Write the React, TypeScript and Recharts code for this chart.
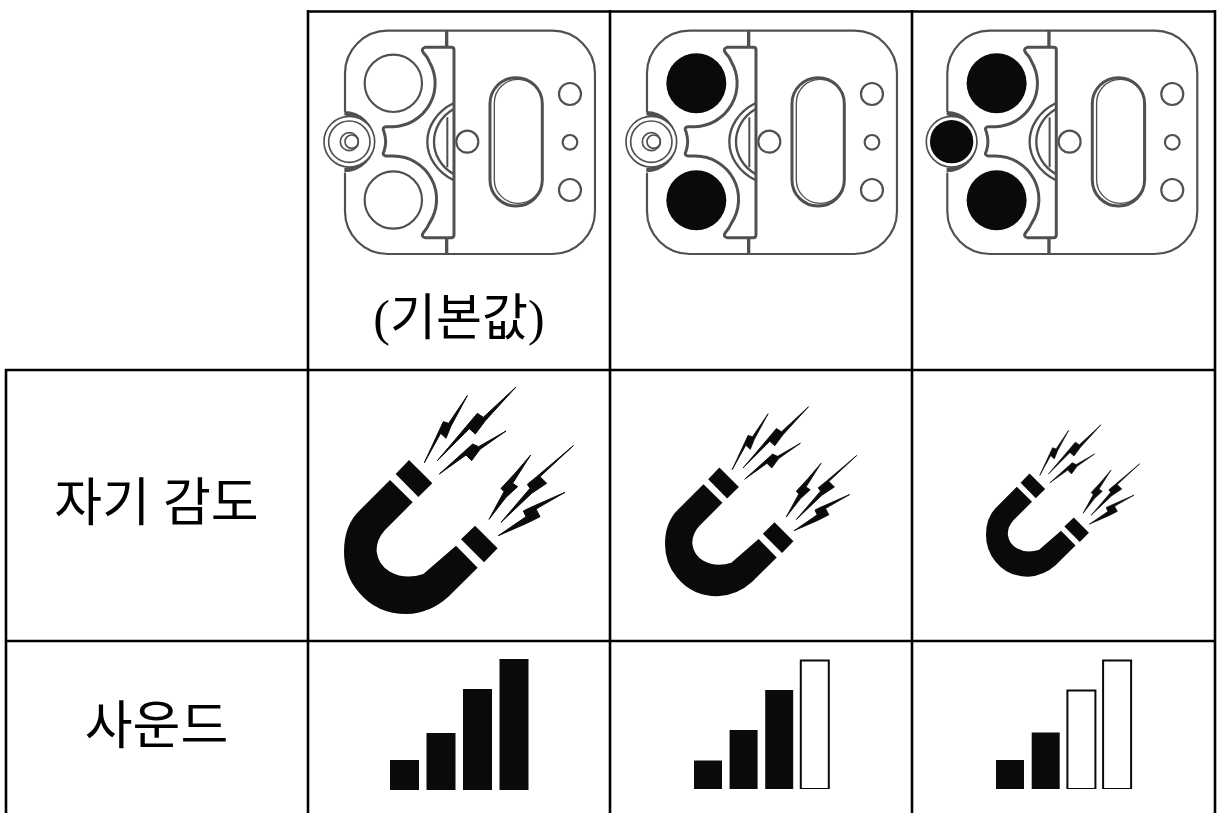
import React from 'react';
import { BarChart, Bar, Cell, XAxis, YAxis, Customized } from 'recharts';

const WIDTH = 1221;
const HEIGHT = 813;
const KR_FONT = '"Liberation Serif", "Noto Sans CJK KR", serif';

const rowLabels = ['자기 감도', '사운드'];
const defaultLabel = '(기본값)';
const soundCategories = ['1', '2', '3', '4'];
const soundLowHeights = [30, 57, 101, 131];
const soundMidHeights = [28.5, 59, 99, 128.5];
const soundHighHeights = [29, 56.5, 98.5, 128.5];
const filledLow = 4;
const filledMid = 3;
const filledHigh = 2;

const INK = '#0a0a0a';
const GREY = '#505050';

// local coordinates are the 3x zoom pixels of the first cell
const DeviceIcon = ({ x, plates, knob }: any) => (
  <g transform={`translate(${x},10) scale(0.3333)`} fill="none" stroke={GREY} strokeWidth={6.5}>
    <path d="M105 305 V190 A128 128 0 0 1 233 62 H727 A128 128 0 0 1 855 190 V604 A128 128 0 0 1 727 732 H233 A128 128 0 0 1 105 604 V488" />
    <path d="M410 62 V110 M410 685 V732" strokeWidth={10} />
    <path
      d="M345 112 H424 Q432 112 432 120 V675 Q432 683 424 683 H345 Q332 680 340 668 Q352 655 358 640 A130 130 0 0 0 250 438 H228 Q215 436 222 424 Q232 395 222 365 Q215 352 228 350 H250 A130 130 0 0 0 358 155 Q352 140 340 128 Q332 116 345 112 Z"
      strokeWidth={9}
    />
    <path d="M430 280 C380 305 352 350 352 395 C352 440 380 485 430 510" strokeWidth={7} />
    <path d="M430 298 C392 320 372 358 372 395 C372 432 392 470 430 492" strokeWidth={7} />
    <path d="M412 322 V472" strokeWidth={6} />
    <circle cx={472} cy={395} r={33} />
    <circle cx={780} cy={252} r={33} />
    <circle cx={780} cy={397} r={22} />
    <circle cx={780} cy={540} r={33} />
    <rect x={540} y={203} width={157} height={385} rx={78} strokeWidth={9} />
    <rect x={553} y={208} width={143} height={372} rx={71} strokeWidth={4} />
    {plates ? (
      <g fill={INK} stroke="none">
        <circle cx={253} cy={220} r={90} />
        <circle cx={253} cy={571} r={90} />
      </g>
    ) : (
      <g>
        <circle cx={250} cy={220} r={86} />
        <circle cx={250} cy={570} r={86} />
      </g>
    )}
    <path d="M103 303 A92 92 0 0 1 103 487 V474 A80 80 0 0 0 103 316 Z" fill={GREY} stroke="none" />
    <circle cx={118} cy={395} r={76} fill="#fff" strokeWidth={5} />
    {knob ? (
      <circle cx={118} cy={395} r={65} fill={INK} stroke="none" />
    ) : (
      <g strokeWidth={5}>
        <circle cx={118} cy={395} r={62} />
        <circle cx={118} cy={395} r={27} />
        <circle cx={125} cy={395} r={20} />
      </g>
    )}
  </g>
);

const bolts = [
  '412,62 362,155 348,190 332,175 283,263 340,140 356,145',
  '557,37 466,137 436,177 418,161 322,257 442,115 460,127',
  '528,168 450,223 425,257 408,240 328,297 428,207 446,215',
  '602,240 548,325 563,335 528,367 477,433 522,350 513,340 555,295',
  '730,212 630,305 650,325 605,355 513,442 600,340 592,328 620,305',
  '705,352 618,402 630,425 590,445 505,482 588,425 580,408 600,398',
];

const MagnetIcon = ({ x, y, scale }: any) => (
  <g transform={`translate(${x},${y}) scale(${scale / 3})`} fill={INK}>
    <path d="M180 315 L248 382 L165 465 Q138 495 140 530 Q145 570 180 590 Q225 615 280 597 L378 512 L443 578 L355 665 Q300 715 230 717 Q140 717 85 650 Q42 600 42 530 Q42 450 90 405 Z" />
    <polygon points="237,255 307,325 265,366 197,297" />
    <polygon points="435,452 503,520 462,562 393,493" />
    {bolts.map((b) => (
      <polygon key={b} points={b} stroke={INK} strokeWidth={3} strokeLinejoin="round" />
    ))}
  </g>
);

const TableLayer = () => (
  <g>
    <g stroke="#000" strokeWidth={2.6}>
      <line x1={307} y1={11.5} x2={1216} y2={11.5} />
      <line x1={5} y1={370} x2={1216} y2={370} />
      <line x1={5} y1={641} x2={1216} y2={641} />
      <line x1={6} y1={369} x2={6} y2={HEIGHT} />
      <line x1={308} y1={10} x2={308} y2={HEIGHT} />
      <line x1={610} y1={10} x2={610} y2={HEIGHT} />
      <line x1={912} y1={10} x2={912} y2={HEIGHT} />
      <line x1={1215} y1={10} x2={1215} y2={HEIGHT} />
    </g>
    <DeviceIcon x={310} plates={false} knob={false} />
    <DeviceIcon x={612} plates knob={false} />
    <DeviceIcon x={912.3} plates knob />
    <MagnetIcon x={330} y={375} scale={1} />
    <MagnetIcon x={653.3} y={396.4} scale={0.836} />
    <MagnetIcon x={976.6} y={416.5} scale={0.67} />
    <g fontFamily={KR_FONT} fill="#000" textAnchor="middle">
      <text x={459} y={335} fontSize={50}>{defaultLabel}</text>
      <text x={156.5} y={521} fontSize={52}>{rowLabels[0]}</text>
      <text x={156.5} y={744} fontSize={52}>{rowLabels[1]}</text>
    </g>
  </g>
);

const SoundBars = ({ heights, filled, left, bottom, width, barSize }: any) => {
  const rows = soundCategories.map((name, i) => ({ name, level: heights[i] }));
  return (
    <div style={{ position: 'absolute', left, top: bottom - 140 }}>
      <BarChart width={width} height={140} data={rows} margin={{ top: 0, right: 0, bottom: 0, left: 0 }}>
        <XAxis dataKey="name" hide />
        <YAxis domain={[0, 140]} hide />
        <Bar dataKey="level" barSize={barSize} isAnimationActive={false}>
          {rows.map((r, i) =>
            i < filled ? (
              <Cell key={r.name} fill={INK} />
            ) : (
              <Cell key={r.name} fill="#fff" stroke={INK} strokeWidth={2} />
            ),
          )}
        </Bar>
      </BarChart>
    </div>
  );
};

export default function App() {
  return (
    <div style={{ position: 'absolute', left: 0, top: 0, width: WIDTH, height: HEIGHT, background: '#fff' }}>
      <div style={{ position: 'absolute', left: 0, top: 0 }}>
        <BarChart width={WIDTH} height={HEIGHT} data={[]} margin={{ top: 0, right: 0, bottom: 0, left: 0 }}>
          <Customized component={TableLayer} />
        </BarChart>
      </div>
      <SoundBars heights={soundLowHeights} filled={filledLow} left={386} bottom={790} width={146} barSize={29} />
      <SoundBars heights={soundMidHeights} filled={filledMid} left={689.8} bottom={788.5} width={142.4} barSize={28} />
      <SoundBars heights={soundHighHeights} filled={filledHigh} left={991.9} bottom={788.5} width={142.8} barSize={28} />
    </div>
  );
}
